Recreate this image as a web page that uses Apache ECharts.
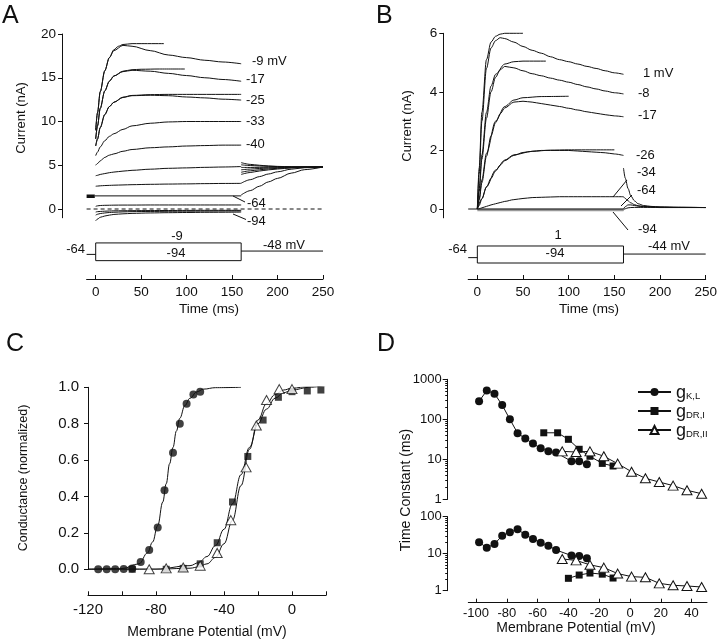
<!DOCTYPE html>
<html>
<head>
<meta charset="utf-8">
<title>K+ currents, activation and time constants</title>
<script src="https://cdn.jsdelivr.net/npm/echarts@6/dist/echarts.min.js"></script>
<style>
  html, body { margin: 0; padding: 0; background: #fff; }
  #chart { width: 720px; height: 639px; }
</style>
</head>
<body>
<div id="chart"></div>
<script>
// ---------- panel A : currents (nA) vs time (ms)
var tA = [0, 2, 5, 10, 15, 20, 30, 40, 60, 80, 100, 120, 140, 160];
var aM9  = [9.0, 11.0, 13.4, 15.8, 17.3, 18.1, 18.7, 18.6, 18.1, 17.6, 17.3, 17.0, 16.8, 16.6];
var aM17 = [8.0, 9.5, 11.5, 13.5, 14.6, 15.2, 15.7, 15.85, 15.75, 15.5, 15.25, 15.0, 14.8, 14.6];
var aM25 = [7.2, 8.0, 9.3, 10.8, 11.7, 12.2, 12.75, 12.95, 13.0, 12.95, 12.8, 12.7, 12.55, 12.45];
var aM33 = [6.1, 6.5, 7.1, 7.8, 8.3, 8.6, 9.1, 9.5, 9.8, 9.95, 10.0, 10.0, 10.0, 10.0];
var aM40 = [5.0, 5.2, 5.5, 5.9, 6.15, 6.3, 6.6, 6.8, 7.0, 7.1, 7.2, 7.25, 7.3, 7.3];
var aM48 = [3.8, 3.85, 3.95, 4.05, 4.15, 4.22, 4.33, 4.42, 4.55, 4.65, 4.7, 4.76, 4.8, 4.85];
var aM56 = [2.6, 2.62, 2.65, 2.68, 2.7, 2.72, 2.75, 2.78, 2.82, 2.85, 2.87, 2.9, 2.92, 2.93];
var aM64 = [1.5, 1.5, 1.5, 1.5, 1.5, 1.5, 1.5, 1.5, 1.5, 1.5, 1.5, 1.5, 1.5, 1.5];
var aM72 = [0.3, 0.36, 0.4, 0.42, 0.43, 0.44, 0.45, 0.45, 0.46, 0.46, 0.46, 0.46, 0.46, 0.46];
var aM80 = [-0.35, -0.3, -0.28, -0.25, -0.23, -0.21, -0.2, -0.19, -0.18, -0.17, -0.16, -0.15, -0.15, -0.15];
var aM87 = [-0.7, -0.6, -0.52, -0.45, -0.4, -0.37, -0.33, -0.3, -0.28, -0.26, -0.25, -0.24, -0.23, -0.22];
var aM94 = [-1.35, -1.15, -0.95, -0.8, -0.7, -0.62, -0.55, -0.5, -0.45, -0.42, -0.4, -0.38, -0.37, -0.35];

// fitted curves in A (they ride on the rising phase, then level off)
var fitA9T  = [0, 2, 5, 10, 15, 20, 25, 30, 40, 50, 75];
var fitA9   = [9.0, 11.0, 13.4, 15.8, 17.3, 18.2, 18.6, 18.8, 18.9, 18.9, 18.9];
var fitA17T = [0, 2, 5, 10, 15, 20, 30, 40, 50, 70, 98];
var fitA17  = [8.0, 9.5, 11.5, 13.5, 14.6, 15.2, 15.75, 15.92, 15.97, 16.0, 16.0];
var fitA25T = [0, 2, 5, 10, 15, 20, 30, 40, 60, 80, 100, 160];
var fitA25  = [7.2, 8.0, 9.3, 10.8, 11.7, 12.2, 12.78, 12.98, 13.07, 13.1, 13.1, 13.1];

// tail currents at -48 mV
var tailAT = [160, 170, 180, 190, 200, 215, 230, 250];
var tailA1 = [5.3, 5.1, 5.0, 4.92, 4.87, 4.83, 4.81, 4.8];
var tailA2 = [5.05, 4.97, 4.92, 4.88, 4.85, 4.82, 4.81, 4.8];
var tailA3 = [4.75, 4.75, 4.76, 4.77, 4.78, 4.79, 4.8, 4.8];
var tailA4 = [4.48, 4.56, 4.63, 4.68, 4.72, 4.76, 4.79, 4.8];
var tailA5 = [4.2, 4.36, 4.48, 4.58, 4.65, 4.73, 4.78, 4.8];
var tailA6 = [3.95, 4.17, 4.34, 4.47, 4.57, 4.69, 4.77, 4.8];
var tailA7 = [2.95, 3.35, 3.7, 4.0, 4.25, 4.55, 4.72, 4.8];
var tailA8 = [1.6, 2.1, 2.6, 3.1, 3.5, 4.1, 4.5, 4.8];

var zeroT = [-10, 250];
var zeroI = [0, 0];
var holdAT = [-10, -1];
var holdAI = [1.45, 1.45];
var flatAT = [-1, 160];

// voltage protocol (mV)
var boxT = [0, 0, 160, 160, 0];
var boxA = [-94, -9, -9, -94, -94];
var preT = [-10, 0];
var preV = [-64, -64];
var postT = [160, 250];
var postA = [-48, -48];

// ---------- panel B
var tB = [0, 2, 5, 10, 15, 20, 25, 30, 40, 50, 60, 70, 80, 90, 100, 110, 120, 130, 140, 150, 160];
var bP1  = [0, 1.2, 3.0, 4.8, 5.5, 5.75, 5.85, 5.82, 5.7, 5.55, 5.42, 5.32, 5.2, 5.1, 5.03, 4.95, 4.87, 4.8, 4.72, 4.65, 4.6];
var bM8  = [0, 0.6, 1.7, 3.1, 4.0, 4.5, 4.75, 4.87, 4.82, 4.72, 4.62, 4.55, 4.47, 4.4, 4.33, 4.25, 4.17, 4.1, 4.03, 3.97, 3.93];
var bM17 = [0, 0.3, 0.9, 1.8, 2.5, 2.95, 3.25, 3.45, 3.65, 3.68, 3.65, 3.6, 3.55, 3.5, 3.44, 3.38, 3.32, 3.27, 3.22, 3.18, 3.15];
var bM26 = [0, 0.12, 0.35, 0.75, 1.05, 1.3, 1.5, 1.65, 1.83, 1.93, 1.97, 2.0, 2.0, 2.0, 2.0, 1.98, 1.96, 1.94, 1.92, 1.88, 1.83];
var bM34 = [0, 0.01, 0.04, 0.09, 0.14, 0.18, 0.22, 0.26, 0.32, 0.36, 0.39, 0.4, 0.41, 0.42, 0.42, 0.42, 0.42, 0.42, 0.42, 0.42, 0.42];
var baseBT = [-10, 160];
var baseB = [0, 0];
var hypBT = [0, 160];
var hypB = [-0.03, -0.03];

var fitB1T  = [0, 2, 5, 10, 15, 20, 25, 30, 40, 50];
var fitB1   = [0, 1.4, 3.3, 5.1, 5.7, 5.9, 5.97, 6.0, 6.0, 6.0];
var fitB8T  = [0, 2, 5, 10, 15, 20, 30, 40, 50, 75];
var fitB8   = [0, 0.7, 1.85, 3.3, 4.2, 4.6, 4.95, 5.03, 5.05, 5.05];
var fitB17T = [0, 2, 5, 10, 20, 30, 40, 50, 70, 100];
var fitB17  = [0, 0.35, 1.0, 1.9, 3.0, 3.5, 3.72, 3.8, 3.84, 3.85];
var fitB26T = [0, 5, 10, 20, 30, 40, 60, 80, 100, 150];
var fitB26  = [0, 0.35, 0.76, 1.33, 1.67, 1.85, 1.97, 2.01, 2.02, 2.02];

var tailBT = [160, 162, 165, 168, 172, 176, 182, 190, 200, 220, 250];
var tailB1 = [1.4, 1.05, 0.7, 0.45, 0.28, 0.18, 0.12, 0.09, 0.07, 0.06, 0.05];
var tailB2 = [0.42, 0.36, 0.28, 0.21, 0.15, 0.11, 0.09, 0.075, 0.065, 0.055, 0.05];
var tailB3 = [0.0, 0.08, 0.14, 0.14, 0.12, 0.1, 0.08, 0.07, 0.06, 0.055, 0.05];
var tailB4 = [-0.03, 0.01, 0.04, 0.05, 0.055, 0.055, 0.055, 0.055, 0.05, 0.05, 0.05];

var boxB = [-94, 1, 1, -94, -94];
var postB = [-44, -44];

var timeTicks = [0, 50, 100, 150, 200, 250];

// ---------- panel C : normalized conductance vs potential
var cKLV = [-114, -109, -104, -99, -94, -89, -84, -79, -75, -70, -66, -62, -58, -54];
var cKLG = [0, 0, 0, 0.002, 0.005, 0.04, 0.106, 0.23, 0.434, 0.64, 0.80, 0.91, 0.96, 0.976];
var cDR1V = [-94, -74, -64, -54, -44, -35, -26, -17, -8, 0, 9, 17];
var cDR1G = [0, 0, 0.005, 0.03, 0.146, 0.37, 0.62, 0.82, 0.945, 0.976, 0.98, 0.985];
var cDR2V = [-84, -74, -64, -54, -44, -36, -27, -21, -15, -7.5, 0];
var cDR2G = [0, 0.005, 0.01, 0.02, 0.09, 0.27, 0.56, 0.79, 0.93, 0.99, 0.99];

var fitKLV = [-120, -100, -90, -85, -82, -79, -76, -74, -72, -70, -68, -66, -63, -60, -56, -52, -45, -30];
var fitKL  = [0, 0.004, 0.03, 0.09, 0.15, 0.24, 0.37, 0.47, 0.58, 0.67, 0.76, 0.83, 0.9, 0.94, 0.975, 0.99, 0.998, 1.0];
var fitDRV = [-120, -80, -60, -55, -50, -45, -40, -35, -30, -25, -20, -15, -10, -5, 0, 10, 20];
var fitDR1 = [0, 0.001, 0.02, 0.036, 0.07, 0.13, 0.22, 0.36, 0.52, 0.67, 0.8, 0.88, 0.94, 0.97, 0.985, 1.0, 1.01];
var fitDR2 = [0, 0.0002, 0.006, 0.013, 0.03, 0.065, 0.14, 0.27, 0.46, 0.66, 0.82, 0.91, 0.96, 0.985, 0.995, 1.005, 1.01];

// ---------- panel D : time constants (ms)
var dKLV = [-98, -93, -88, -83, -78, -73, -68, -63, -58, -53, -48, -38, -33, -28];
var dKLAct = [282, 522, 438, 227, 100, 45, 33, 24.7, 18.8, 15.8, 14.7, 8.9, 8.9, 7.5];
var dKLDea = [20.4, 14.5, 18.3, 30.7, 38, 45.6, 32.6, 25, 19.8, 16.5, 12.6, 8.9, 8.7, 7.5];
var dDR1V = [-56, -47, -40, -33, -26, -18, -11];
var dDR1Act = [46, 46, 31.6, 17.8, 11.9, 7.9, 6.8];
var dDR1DV = [-40, -33, -26, -18, -11];
var dDR1Dea = [2.16, 2.65, 3.0, 2.8, 2.2];
var dDR2V = [-44, -35, -26, -17, -8, 1, 10, 19, 28, 37, 46.5];
var dDR2Act = [15.8, 15.2, 15.8, 11.9, 7.8, 4.9, 3.35, 2.7, 2.2, 1.68, 1.38];
var dDR2Dea = [7.2, 6.6, 5.0, 4.2, 2.9, 2.4, 2.3, 1.58, 1.40, 1.34, 1.26];

var logMajor3 = [1, 10, 100, 1000];
var logMajor2 = [1, 10, 100];
var logMinor = [2, 3, 4, 5, 6, 7, 8, 9, 20, 30, 40, 50, 60, 70, 80, 90, 200, 300, 400, 500, 600, 700, 800, 900];
var dTicks = [-100, -80, -60, -40, -20, 0, 20, 40];

// ---------- helpers
var FONT = '"Liberation Sans", Arial, Helvetica, sans-serif';
var INK = '#111';

function zip(xs, ys) {
  return xs.map(function (x, i) { return [x, ys[i]]; });
}

function trace(ax, xs, ys, extra) {
  return Object.assign({
    type: 'line', xAxisIndex: ax, yAxisIndex: ax, data: zip(xs, ys),
    symbol: 'none', smooth: 0.3, smoothMonotone: 'x', clip: false, silent: true,
    lineStyle: { color: INK, width: 1 }
  }, extra || {});
}

function straight(ax, xs, ys, extra) {
  return trace(ax, xs, ys, Object.assign({ smooth: false }, extra || {}));
}

function txt(x, y, s, size, align, extra) {
  return Object.assign({
    type: 'text', x: x, y: y, silent: true,
    style: { text: s, fill: INK, font: (size || 13) + 'px ' + FONT, align: align || 'left', verticalAlign: 'middle' }
  }, extra || {});
}

function vtxt(x, y, s, size) {
  return txt(x, y, s, size, 'center', { rotation: Math.PI / 2 });
}

function seg(x1, y1, x2, y2) {
  return { type: 'line', silent: true, shape: { x1: x1, y1: y1, x2: x2, y2: y2 }, style: { stroke: INK, lineWidth: 1 } };
}

var axLine = { show: true, onZero: false, lineStyle: { color: INK, width: 1 } };
var noLine = { show: false, onZero: false };
function lbl(size, margin, extra) {
  return Object.assign({ color: INK, fontSize: size, fontFamily: FONT, margin: margin }, extra || {});
}
function plain(v) { return String(v); }
var noSplit = { show: false };

var circleStyle = { color: INK };
var triStyle = { color: '#fff', borderColor: INK, borderWidth: 1 };

function dSeries(ax, name, xs, ys, symbol, size, style) {
  return {
    type: 'line', name: name, xAxisIndex: ax, yAxisIndex: ax === 5 ? 4 : 6,
    data: zip(xs, ys), symbol: symbol, symbolSize: size, showSymbol: true,
    itemStyle: style, lineStyle: { color: INK, width: 1 }, silent: true, z: 3
  };
}

function fitC(xs, ys) {
  return { type: 'line', xAxisIndex: 4, yAxisIndex: 8, data: zip(xs, ys), symbol: 'none', smooth: 0.4,
    smoothMonotone: 'x', lineStyle: { color: INK, width: 1 }, silent: true };
}

var chart = echarts.init(document.getElementById('chart'));

chart.setOption({
  animation: false,
  backgroundColor: '#fff',
  grid: [
    { left: 86.6, top: 34, width: 236.4, height: 183.75 },   // A traces
    { left: 86.6, top: 230, width: 236.4, height: 49 },      // A protocol + time axis
    { left: 468.2, top: 33.3, width: 237.5, height: 184.5 }, // B traces
    { left: 468.2, top: 230, width: 237.5, height: 49 },     // B protocol + time axis
    { left: 88, top: 387.3, width: 238, height: 182 },       // C
    { left: 468.3, top: 379.3, width: 238.7, height: 120 },  // D upper
    { left: 468.3, top: 516.7, width: 238.7, height: 74 }    // D lower
  ],
  xAxis: [
    { gridIndex: 0, type: 'value', min: -10, max: 250, show: false },
    { gridIndex: 1, type: 'value', min: -10, max: 250, axisLine: axLine,
      axisTick: { show: true, inside: true, length: 4, customValues: timeTicks, lineStyle: { color: INK } },
      axisLabel: lbl(13.5, 6, { customValues: timeTicks }), splitLine: noSplit },
    { gridIndex: 2, type: 'value', min: -10, max: 250, show: false },
    { gridIndex: 3, type: 'value', min: -10, max: 250, axisLine: axLine,
      axisTick: { show: true, inside: true, length: 4, customValues: timeTicks, lineStyle: { color: INK } },
      axisLabel: lbl(13.5, 6, { customValues: timeTicks }), splitLine: noSplit },
    { gridIndex: 4, type: 'value', min: -120, max: 20, interval: 20, offset: 26, axisLine: axLine,
      axisTick: { show: true, inside: true, length: 4, lineStyle: { color: INK } },
      axisLabel: lbl(15, 7, { customValues: [-120, -80, -40, 0] }), splitLine: noSplit },
    { gridIndex: 5, type: 'value', min: -105, max: 50, show: false },
    { gridIndex: 6, type: 'value', min: -105, max: 50, offset: 12, axisLine: axLine,
      axisTick: { show: true, inside: true, length: 4, customValues: dTicks, lineStyle: { color: INK } },
      axisLabel: lbl(13, 4, { customValues: dTicks }), splitLine: noSplit }
  ],
  yAxis: [
    { gridIndex: 0, type: 'value', min: -1, max: 20, offset: 24.6, axisLine: axLine,
      axisTick: { show: true, length: 4, customValues: [0, 5, 10, 15, 20], lineStyle: { color: INK } },
      axisLabel: lbl(13.5, 6, { customValues: [0, 5, 10, 15, 20] }), splitLine: noSplit },
    { gridIndex: 1, type: 'value', min: -182, max: 53, show: false },
    { gridIndex: 2, type: 'value', min: -0.3, max: 6, offset: 24.9, axisLine: axLine,
      axisTick: { show: true, length: 4, customValues: [0, 2, 4, 6], lineStyle: { color: INK } },
      axisLabel: lbl(13.5, 6, { customValues: [0, 2, 4, 6] }), splitLine: noSplit },
    { gridIndex: 3, type: 'value', min: -183.4, max: 90.4, show: false },
    // index 4: D upper (major), 5: D upper (minor ticks)
    { gridIndex: 5, type: 'log', min: 1, max: 1000, offset: 20.6, position: 'left', axisLine: axLine,
      axisTick: { show: true, length: 5, customValues: logMajor3, lineStyle: { color: INK } },
      axisLabel: lbl(13, 6, { customValues: logMajor3, formatter: plain }), splitLine: noSplit },
    { gridIndex: 5, type: 'log', min: 1, max: 1000, offset: 20.6, position: 'left', axisLine: noLine,
      axisTick: { show: true, length: 2.5, customValues: logMinor, lineStyle: { color: INK } },
      axisLabel: { show: false }, splitLine: noSplit },
    // index 6: D lower (major), 7: D lower (minor)
    { gridIndex: 6, type: 'log', min: 1, max: 100, offset: 20.6, position: 'left', axisLine: axLine,
      axisTick: { show: true, length: 5, customValues: logMajor2, lineStyle: { color: INK } },
      axisLabel: lbl(13, 6, { customValues: logMajor2, formatter: plain }), splitLine: noSplit },
    { gridIndex: 6, type: 'log', min: 1, max: 100, offset: 20.6, position: 'left', axisLine: noLine,
      axisTick: { show: true, length: 2.5, customValues: logMinor, lineStyle: { color: INK } },
      axisLabel: { show: false }, splitLine: noSplit },
    // index 8: C
    { gridIndex: 4, type: 'value', min: 0, max: 1, interval: 0.2, axisLine: axLine,
      axisTick: { show: true, length: 4, lineStyle: { color: INK } },
      axisLabel: lbl(15, 9, { formatter: function (v) { return v.toFixed(1); } }), splitLine: noSplit }
  ],
  legend: {
    data: ['gKL', 'gDR1', 'gDR2'],
    orient: 'vertical', left: 632, top: 379,
    itemWidth: 33, itemHeight: 10, itemGap: 1,
    selectedMode: false,
    formatter: function (n) {
      var sub = { gKL: 'K,L', gDR1: 'DR,I', gDR2: 'DR,II' }[n];
      return '{g|g}{s|' + sub + '}';
    },
    textStyle: {
      color: INK,
      rich: {
        g: { fontSize: 18, fontFamily: FONT, color: INK, lineHeight: 20, verticalAlign: 'bottom' },
        s: { fontSize: 9.5, fontFamily: FONT, color: INK, lineHeight: 20, verticalAlign: 'bottom', padding: [0, 0, 1, 0] }
      }
    }
  },
  series: [
    // ----- A
    straight(1, boxT, boxA), straight(1, preT, preV), straight(1, postT, postA),
    straight(0, zeroT, zeroI, { lineStyle: { color: INK, width: 1, type: [4, 3] } }),
    straight(0, holdAT, holdAI, { lineStyle: { color: INK, width: 3.5 } }),
    trace(0, tA, aM9), trace(0, tA, aM17), trace(0, tA, aM25), trace(0, tA, aM33),
    trace(0, tA, aM40), trace(0, tA, aM48), trace(0, tA, aM56),
    straight(0, flatAT, [aM64[0], aM64[aM64.length - 1]]),
    trace(0, tA, aM72), trace(0, tA, aM80), trace(0, tA, aM87), trace(0, tA, aM94),
    trace(0, fitA9T, fitA9), trace(0, fitA17T, fitA17), trace(0, fitA25T, fitA25),
    trace(0, tailAT, tailA1), trace(0, tailAT, tailA2), trace(0, tailAT, tailA3), trace(0, tailAT, tailA4),
    trace(0, tailAT, tailA5), trace(0, tailAT, tailA6), trace(0, tailAT, tailA7), trace(0, tailAT, tailA8),
    // ----- B
    straight(3, boxT, boxB), straight(3, preT, preV), straight(3, postT, postB),
    straight(2, hypBT, hypB, { lineStyle: { color: '#999', width: 2.5 } }),
    straight(2, baseBT, baseB),
    trace(2, tB, bP1), trace(2, tB, bM8), trace(2, tB, bM17), trace(2, tB, bM26), trace(2, tB, bM34),
    trace(2, fitB1T, fitB1), trace(2, fitB8T, fitB8), trace(2, fitB17T, fitB17), trace(2, fitB26T, fitB26),
    trace(2, tailBT, tailB1), trace(2, tailBT, tailB2), trace(2, tailBT, tailB3), trace(2, tailBT, tailB4),
    // ----- C
    fitC(fitKLV, fitKL), fitC(fitDRV, fitDR1), fitC(fitDRV, fitDR2),
    { type: 'scatter', xAxisIndex: 4, yAxisIndex: 8, data: zip(cKLV, cKLG), symbol: 'circle', symbolSize: 8, itemStyle: circleStyle, silent: true, z: 3 },
    { type: 'scatter', xAxisIndex: 4, yAxisIndex: 8, data: zip(cDR1V, cDR1G), symbol: 'rect', symbolSize: 7, itemStyle: circleStyle, silent: true, z: 4 },
    { type: 'scatter', xAxisIndex: 4, yAxisIndex: 8, data: zip(cDR2V, cDR2G), symbol: 'triangle', symbolSize: [10, 9], itemStyle: triStyle, silent: true, z: 5 },
    // ----- D
    dSeries(5, 'gKL', dKLV, dKLAct, 'circle', 8, circleStyle),
    dSeries(5, 'gDR1', dDR1V, dDR1Act, 'rect', 7, circleStyle),
    dSeries(5, 'gDR2', dDR2V, dDR2Act, 'triangle', [10, 9], triStyle),
    dSeries(6, 'gKL', dKLV, dKLDea, 'circle', 8, circleStyle),
    dSeries(6, 'gDR1', dDR1DV, dDR1Dea, 'rect', 7, circleStyle),
    dSeries(6, 'gDR2', dDR2V, dDR2Dea, 'triangle', [10, 9], triStyle)
  ],
  graphic: [
    // panel letters
    txt(2, 16, 'A', 25), txt(376, 16, 'B', 25), txt(6, 344, 'C', 25), txt(377, 344, 'D', 25),
    // A labels
    txt(252, 61, '-9 mV'), txt(246, 79, '-17'), txt(246, 100, '-25'), txt(246, 121, '-33'),
    txt(246, 144, '-40'), txt(247, 203, '-64'), txt(247, 221, '-94'),
    seg(233, 196, 245, 202), seg(233, 214, 246, 219.5),
    txt(177, 236, '-9', 13, 'center'), txt(176, 253, '-94', 13, 'center'),
    txt(85, 249, '-64', 13, 'right'), txt(263, 245, '-48 mV'),
    vtxt(21, 118, 'Current (nA)', 13), txt(209, 309, 'Time (ms)', 13.5, 'center'),
    // B labels
    txt(643, 73, '1 mV'), txt(638, 93, '-8'), txt(638, 115, '-17'), txt(636, 155, '-26'),
    txt(637, 172, '-34'), txt(637, 190, '-64'), txt(638, 229, '-94'),
    seg(613, 197, 627, 180), seg(621, 206, 632, 195), seg(613, 212, 628, 230),
    txt(558, 235, '1', 13, 'center'), txt(555, 253, '-94', 13, 'center'),
    txt(467, 249, '-64', 13, 'right'), txt(648, 246, '-44 mV'),
    vtxt(407, 126, 'Current (nA)', 13), txt(589, 309, 'Time (ms)', 13.5, 'center'),
    // C, D titles
    vtxt(24, 478, 'Conductance (normalized)', 12.5), txt(207, 632, 'Membrane Potential (mV)', 14, 'center'),
    vtxt(406, 490, 'Time Constant (ms)', 14), txt(576, 628, 'Membrane Potential (mV)', 14, 'center')
  ]
});
</script>
</body>
</html>
